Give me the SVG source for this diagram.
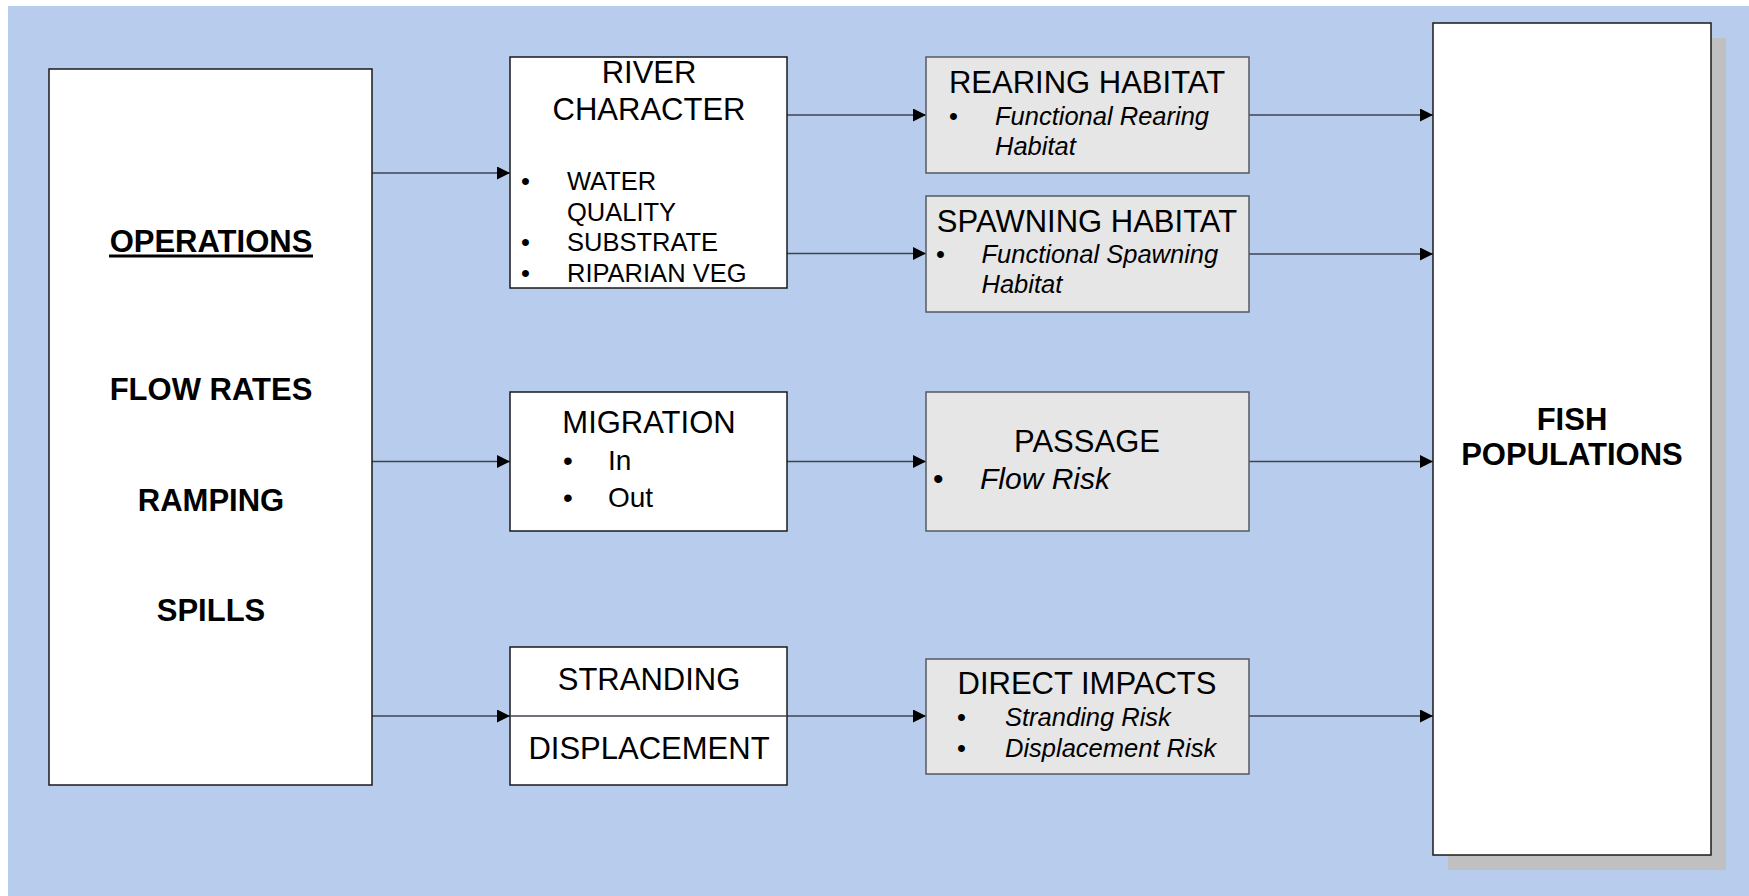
<svg xmlns="http://www.w3.org/2000/svg" width="1749" height="896" viewBox="0 0 1749 896">
<defs>
<style>
text{font-family:"Liberation Sans",Arial,sans-serif;fill:#000}
.wbox{fill:#fff;stroke:#1a1a1a;stroke-width:1.5}
.gbox{fill:#e6e6e6;stroke:#555a60;stroke-width:1.5}
.bold{font-weight:bold;font-size:31px;text-anchor:middle}
.title{font-size:31px;text-anchor:middle}
.item{font-size:25.5px}
.ital{font-size:25.5px;font-style:italic}
.conn{fill:none;stroke:#3c4350;stroke-width:1.5}
</style>
<marker id="arr" markerUnits="userSpaceOnUse" markerWidth="14" markerHeight="14" refX="13" refY="6.5" orient="auto">
<path d="M0,0 L13,6.5 L0,13 z" fill="#000"/>
</marker>
</defs>
<rect x="0" y="0" width="1749" height="896" fill="#fff"/>
<rect x="8" y="6" width="1741" height="890" fill="#b8cded"/>

<g id="connectors">
<path class="conn" d="M372,173 H510" marker-end="url(#arr)"/>
<path class="conn" d="M372,461.5 H510" marker-end="url(#arr)"/>
<path class="conn" d="M372,716 H510" marker-end="url(#arr)"/>
<path class="conn" d="M787,115 H926" marker-end="url(#arr)"/>
<path class="conn" d="M787,253.5 H926" marker-end="url(#arr)"/>
<path class="conn" d="M787,461.5 H926" marker-end="url(#arr)"/>
<path class="conn" d="M787,716 H926" marker-end="url(#arr)"/>
<path class="conn" d="M1249,115 H1433" marker-end="url(#arr)"/>
<path class="conn" d="M1249,254 H1433" marker-end="url(#arr)"/>
<path class="conn" d="M1249,461.5 H1433" marker-end="url(#arr)"/>
<path class="conn" d="M1249,716 H1433" marker-end="url(#arr)"/>
</g>

<g id="operations">
<rect class="wbox" x="49" y="69" width="323" height="716"/>
<text class="bold" x="211" y="252">OPERATIONS</text>
<rect x="109" y="254.5" width="204" height="3" fill="#000"/>
<text class="bold" x="211" y="399.5">FLOW RATES</text>
<text class="bold" x="211" y="510.5">RAMPING</text>
<text class="bold" x="211" y="620.5">SPILLS</text>
</g>

<g id="river-character">
<rect class="wbox" x="510" y="57" width="277" height="231"/>
<text class="title" x="649" y="83">RIVER</text>
<text class="title" x="649" y="120">CHARACTER</text>
<text class="item" x="521" y="190">•</text>
<text class="item" x="567" y="190">WATER</text>
<text class="item" x="567" y="220.5">QUALITY</text>
<text class="item" x="521" y="251">•</text>
<text class="item" x="567" y="251">SUBSTRATE</text>
<text class="item" x="521" y="281.5">•</text>
<text class="item" x="567" y="281.5">RIPARIAN VEG</text>
</g>

<g id="migration">
<rect class="wbox" x="510" y="392" width="277" height="139"/>
<text class="title" x="649" y="433">MIGRATION</text>
<text x="563" y="470" font-size="28">•</text>
<text x="608" y="470" font-size="28">In</text>
<text x="563" y="506.5" font-size="28">•</text>
<text x="608" y="506.5" font-size="28">Out</text>
</g>

<g id="stranding">
<rect class="wbox" x="510" y="647" width="277" height="138"/>
<line x1="510" y1="716" x2="787" y2="716" stroke="#3c4350" stroke-width="1.5"/>
<text class="title" x="649" y="690">STRANDING</text>
<text class="title" x="649" y="759">DISPLACEMENT</text>
</g>

<g id="rearing-habitat">
<rect class="gbox" x="926" y="57" width="323" height="116"/>
<text class="title" x="1087" y="93">REARING HABITAT</text>
<text class="item" x="949" y="125">•</text>
<text class="ital" x="995" y="125">Functional Rearing</text>
<text class="ital" x="995" y="155">Habitat</text>
</g>

<g id="spawning-habitat">
<rect class="gbox" x="926" y="196" width="323" height="116"/>
<text class="title" x="1087" y="231.5">SPAWNING HABITAT</text>
<text class="item" x="936" y="263">•</text>
<text class="ital" x="981.5" y="263">Functional Spawning</text>
<text class="ital" x="981.5" y="293">Habitat</text>
</g>

<g id="passage">
<rect class="gbox" x="926" y="392" width="323" height="139"/>
<text class="title" x="1087" y="452">PASSAGE</text>
<text x="933" y="489" font-size="30">•</text>
<text x="980" y="489" font-size="30" font-style="italic">Flow Risk</text>
</g>

<g id="direct-impacts">
<rect class="gbox" x="926" y="659" width="323" height="115"/>
<text class="title" x="1087" y="694">DIRECT IMPACTS</text>
<text class="item" x="957" y="725.5">•</text>
<text class="ital" x="1005" y="725.5">Stranding Risk</text>
<text class="item" x="957" y="756.5">•</text>
<text class="ital" x="1005" y="756.5">Displacement Risk</text>
</g>

<g id="fish-populations">
<rect x="1448" y="38" width="278" height="832" fill="#c0c0c0"/>
<rect class="wbox" x="1433" y="23" width="278" height="832"/>
<text class="bold" x="1572" y="430">FISH</text>
<text class="bold" x="1572" y="464.5">POPULATIONS</text>
</g>
</svg>
